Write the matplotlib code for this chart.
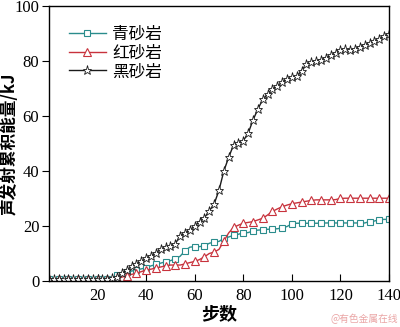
import numpy as np
import matplotlib.pyplot as plt

plt.rcParams['font.family'] = ['Liberation Serif', 'Noto Sans CJK SC']
cjk = ['Noto Sans CJK SC', 'DejaVu Sans']

steps = np.arange(0, 141, 2)

black = [0.8, 0.8, 0.9, 0.8, 0.9, 0.9, 0.8, 0.9, 0.9, 0.9, 0.9, 0.9, 0.9, 1.0,
         1.5, 2.8, 4.0, 5.3, 6.3, 7.2, 8.2, 9.2, 10.3, 11.5, 12.2, 12.8, 13.5,
         16.5, 17.5, 18.5, 20.0, 21.6, 23.0, 25.5, 28.0, 33.0, 40.0, 45.0, 49.5,
         50.2, 51.0, 53.7, 58.5, 62.5, 66.0, 68.0, 69.8, 71.0, 72.3, 73.4, 74.0,
         74.4, 76.5, 78.8, 79.5, 80.0, 80.4, 81.2, 82.0, 83.0, 84.0, 84.3, 84.0,
         84.3, 85.2, 85.9, 86.5, 87.2, 88.0, 89.0, 89.8]

teal = [0.8, 0.8, 0.8, 0.8, 0.8, 0.8, 0.8, 0.8, 0.8, 0.8, 0.8, 0.8, 0.8, 1.2,
        2.0, 2.6, 3.2, 3.6, 4.0, 4.4, 4.8, 5.5, 6.0, 6.5, 7.0, 7.4, 8.0, 9.0,
        11.0, 12.3, 12.5, 12.5, 12.8, 13.7, 14.2, 14.4, 15.5, 16.0, 16.6, 17.0,
        17.5, 17.6, 18.2, 18.5, 18.6, 18.8, 18.9, 19.0, 19.3, 19.8, 20.8, 21.0,
        21.0, 21.0, 21.0, 21.0, 21.0, 21.1, 21.1, 21.1, 21.1, 21.1, 21.1, 21.1,
        21.1, 21.1, 21.6, 21.8, 22.3, 22.4, 22.4]

red = [0.8, 0.8, 0.8, 0.8, 0.8, 0.8, 0.8, 0.8, 0.8, 0.8, 0.8, 0.8, 0.8, 0.8,
       1.0, 1.4, 1.9, 2.4, 2.8, 3.4, 4.0, 4.3, 4.7, 5.1, 5.5, 5.8, 5.8, 5.8,
       6.2, 6.7, 7.1, 7.8, 8.8, 10.0, 10.5, 11.5, 14.5, 17.5, 19.5, 20.3, 21.0,
       21.3, 21.6, 22.2, 22.8, 24.0, 25.3, 26.2, 27.0, 27.6, 28.1, 28.4, 28.7,
       29.0, 29.3, 29.5, 29.5, 29.5, 29.5, 29.6, 30.0, 30.1, 30.1, 30.1, 30.1,
       30.1, 30.1, 30.1, 30.1, 30.1, 30.1]

labels = ['青砂岩', '红砂岩', '黑砂岩']

fig = plt.figure(figsize=(4.0, 3.27), dpi=100)
ax = fig.add_axes([0.1225, 0.1407, 0.85, 0.841])

ax.plot(steps, teal, color='#2a8c8c', lw=1.0, marker='s', ms=5, mfc='white',
        mew=0.8, markevery=2, label=labels[0])
ax.plot(steps, red, color='#c8323c', lw=1.0, marker='^', ms=6, mfc='white',
        mew=0.8, markevery=2, label=labels[1])
ax.plot(steps, black, color='#1a1a1a', lw=1.0, marker='*', ms=6.5, mfc='white',
        mew=0.6, label=labels[2])

ax.set_xlim(0, 140)
ax.set_ylim(0, 100)
ax.set_xticks([20, 40, 60, 80, 100, 120, 140])
ax.set_yticks([0, 20, 40, 60, 80, 100])
ax.tick_params(axis='x', direction='in', length=5, labelsize=12, pad=5)
ax.tick_params(axis='y', direction='out', length=5, labelsize=12, pad=2)
for s in ax.spines.values():
    s.set_linewidth(1.0)

ax.set_xlabel('步数', family=cjk, fontsize=13, fontweight='bold', labelpad=0)
ax.set_ylabel('声发射累积能量/kJ', family=cjk, fontsize=12, fontweight='bold')
ax.yaxis.set_label_coords(-0.088, 0.5)

leg = ax.legend(loc='upper left', frameon=False, prop={'family': cjk, 'size': 12},
                handlelength=2.2, handletextpad=0.4, labelspacing=0.1,
                borderaxespad=0.8)

fig.text(0.995, 0.01, '@有色金属在线', family=cjk, fontsize=7, color='#eaa5a5',
         ha='right', va='bottom')

fig.savefig('out.png', dpi=100)
